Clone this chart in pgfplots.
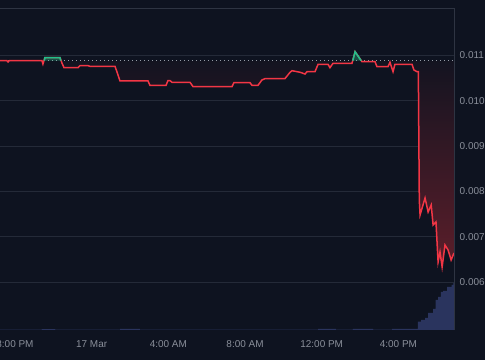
\documentclass[border=0pt]{standalone}
\usepackage{pgfplots}
\usepackage{pgfplotstable}
\pgfplotsset{compat=1.18}
\usepackage{fontspec}
\setmainfont{Liberation Sans}
\definecolor{bg}{RGB}{14,19,32}
\definecolor{gridc}{RGB}{36,42,56}
\definecolor{borderc}{RGB}{46,52,66}
\definecolor{tickc}{RGB}{138,143,154}
\definecolor{redl}{RGB}{242,54,69}
\definecolor{greenl}{RGB}{34,192,138}
\definecolor{volc}{RGB}{42,52,94}
\definecolor{fillbot}{RGB}{92,30,42}
\definecolor{filltop}{RGB}{16,19,32}
\definecolor{basec}{RGB}{150,155,165}

\pgfplotstableread{
x y
-0.78 0.010881
-0.42 0.010881
-0.36 0.010852
-0.30 0.010881
1.41 0.010881
1.46 0.010808
1.56 0.010947
2.35 0.010947
2.45 0.010830
2.56 0.010726
3.29 0.010726
3.39 0.010771
3.81 0.010771
3.91 0.010757
5.22 0.010757
5.48 0.010433
6.94 0.010433
7.04 0.010338
7.88 0.010338
7.98 0.010440
8.09 0.010440
8.19 0.010404
9.13 0.010404
9.29 0.010307
11.32 0.010307
11.42 0.010396
12.26 0.010396
12.36 0.010338
12.68 0.010338
12.88 0.010455
13.04 0.010484
14.08 0.010484
14.35 0.010625
14.45 0.010660
14.87 0.010625
15.13 0.010587
15.23 0.010638
15.65 0.010638
15.81 0.010801
16.33 0.010801
16.43 0.010726
16.59 0.010824
17.58 0.010824
17.74 0.011079
18.10 0.010859
18.78 0.010859
18.88 0.010749
19.46 0.010749
19.56 0.010846
19.72 0.010638
19.82 0.010801
20.71 0.010801
20.81 0.010676
20.97 0.010638
21.04 0.010638
21.09 0.007808
21.13 0.007477
21.39 0.007852
21.55 0.007543
21.71 0.007698
21.81 0.007256
21.96 0.007323
22.07 0.006440
22.17 0.006661
22.28 0.006330
22.43 0.006815
22.59 0.006705
22.75 0.006484
22.90 0.006639
}\pricedata

\pgfplotstableread{
x v
-0.78 0.3
1.41 0.9
2.09 0.4
5.48 1.0
6.52 0.4
15.81 1.0
16.74 0.5
17.63 1.0
18.68 0.5
19.67 1.0
21.02 8.3
21.18 10
21.39 12
21.55 17
21.81 21
21.94 30
22.07 33
22.22 38
22.33 39
22.54 43
22.77 45
22.87 47
22.90 47
}\voldata

\begin{document}
\begin{tikzpicture}
\useasboundingbox (0,0) rectangle (485bp,360bp);
\fill[bg] (0,0) rectangle (485bp,360bp);
\clip (0,0) rectangle (485bp,360bp);
\begin{axis}[at={(0,30bp)}, anchor=south west, scale only axis,
  width=454bp, height=322bp, xmin=-0.78, xmax=22.9, ymin=0, ymax=322,
  axis lines=none]
\addplot[const plot, fill=volc, draw=none] table[x=x, y=v] {\voldata} \closedcycle;
\end{axis}
\begin{axis}[name=main, at={(0,30bp)}, anchor=south west, scale only axis,
  width=454bp, height=322bp, xmin=-0.78, xmax=22.9, ymin=0.00494, ymax=0.012043,
  axis line style={draw=none}, scaled y ticks=false,
  ymajorgrids, grid style={gridc, line width=0.7bp},
  ytick={0.006,0.007,0.008,0.009,0.010,0.011},
  yticklabels={0.006,0.007,0.008,0.009,0.010,0.011},
  ytick pos=right, yticklabel pos=right,
  xtick={0,4,8,12,16,20},
  xticklabels={8:00 PM,17 Mar,4:00 AM,8:00 AM,12:00 PM,4:00 PM},
  major tick length=0,
  tick label style={font=\fontsize{10}{12}\selectfont, text=tickc},
  yticklabel style={anchor=west, inner sep=0pt, xshift=5.5bp},
  xticklabel style={anchor=north, inner sep=0pt, yshift=-10.5bp},
]
\addplot[top color=filltop, bottom color=fillbot, draw=none] table[x=x, y=y] {\pricedata}
  -- (axis cs:22.9,0.010881) -- (axis cs:-0.78,0.010881) -- cycle;
\addplot[basec, line width=0.8bp, dash pattern=on 0.8bp off 3.2bp] coordinates {(-0.78,0.010881) (22.9,0.010881)};
\addplot[redl, line width=1.5bp] table[x=x, y=y] {\pricedata};
\addplot[fill=greenl, fill opacity=0.35, draw=none] coordinates {(1.53,0.010881) (1.56,0.010947) (2.35,0.010947) (2.39,0.010881)} -- cycle;
\addplot[fill=greenl, fill opacity=0.35, draw=none] coordinates {(17.62,0.010881) (17.74,0.011079) (18.06,0.010881)} -- cycle;
\addplot[greenl, line width=1.5bp] coordinates {(1.53,0.010881) (1.56,0.010947) (2.35,0.010947) (2.39,0.010881)};
\addplot[greenl, line width=1.5bp] coordinates {(17.62,0.010881) (17.74,0.011079) (18.06,0.010881)};
\end{axis}
\draw[borderc, line width=0.7bp] (main.north west) -- (main.north east) -- (main.south east);
\end{tikzpicture}
\end{document}
